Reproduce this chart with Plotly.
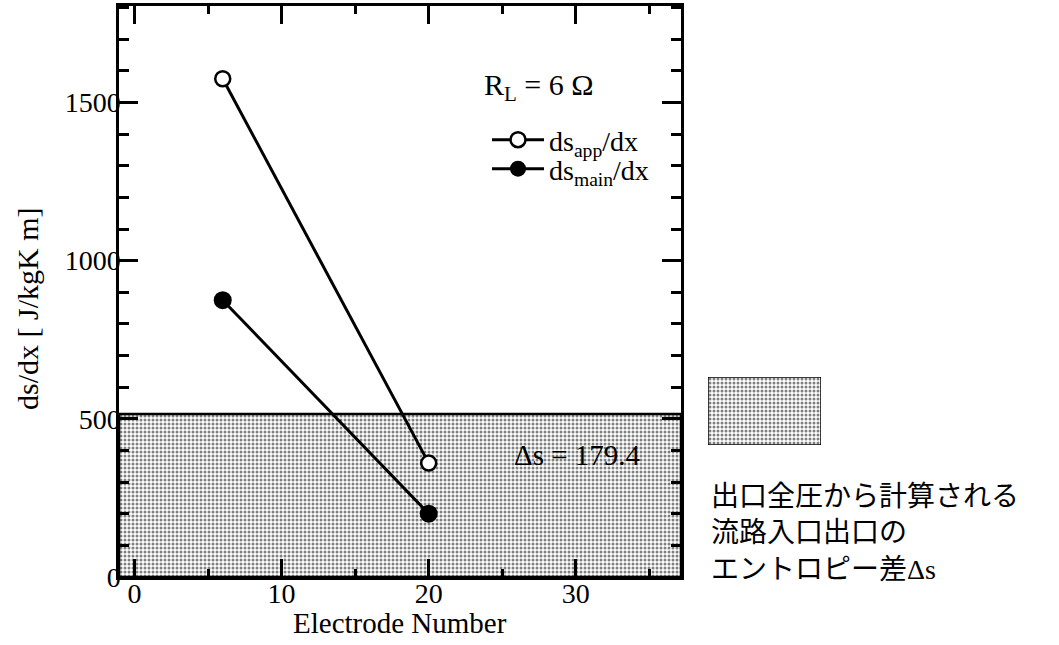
import plotly.graph_objects as go

# Electrode positions and entropy-gradient values (R_L = 6 Ω)
electrode = [6, 20]
ds_app = [1575, 360]
ds_main = [875, 200]

# Entropy difference level drawn as a shaded band
delta_s_level = 515
delta_s_label = "Δs = 179.4"

x_range = [-1.05, 37.15]
y_range = [0, 1805]

W, H = 1059, 645
SERIF = "Liberation Serif"
JP = "Noto Sans CJK JP"

def px_x(v):
    return v / W

def px_y(v):
    return 1 - v / H

dots = dict(shape=".", fgcolor="black", bgcolor="white", size=4, solidity=0.45)

fig = go.Figure()

# shaded band from zero up to the Δs level
fig.add_trace(go.Scatter(
    x=[x_range[0], x_range[1], x_range[1], x_range[0], x_range[0]],
    y=[0, 0, delta_s_level, delta_s_level, 0],
    mode="lines", fill="toself",
    fillcolor="white", fillpattern=dots,
    line=dict(color="black", width=2.5),
    showlegend=False, hoverinfo="skip",
))

fig.add_trace(go.Scatter(
    x=electrode, y=ds_app, mode="lines+markers",
    name="ds<sub>app</sub>/dx", legend="legend",
    line=dict(color="black", width=3),
    marker=dict(symbol="circle", size=15, color="white", line=dict(color="black", width=2.5)),
))
fig.add_trace(go.Scatter(
    x=electrode, y=ds_main, mode="lines+markers",
    name="ds<sub>main</sub>/dx", legend="legend2",
    line=dict(color="black", width=3),
    marker=dict(symbol="circle", size=18, color="black", line=dict(color="black", width=0)),
))

# swatch for the shaded band key, on its own small axes
fig.add_trace(go.Scatter(
    x=[0, 1, 1, 0, 0], y=[0, 0, 1, 1, 0],
    mode="lines", fill="toself", fillcolor="white", fillpattern=dots,
    line=dict(color="black", width=1.5),
    xaxis="x2", yaxis="y2", showlegend=False, hoverinfo="skip",
))

axis_common = dict(
    showline=True, linecolor="black", linewidth=2.5, mirror="allticks",
    ticks="inside", tickcolor="black", tickwidth=2.5,
    showgrid=False, zeroline=False,
    tickfont=dict(family=SERIF, size=28, color="black"),
)

legend_common = dict(
    xanchor="left", yanchor="middle",
    bgcolor="rgba(0,0,0,0)", borderwidth=0,
    font=dict(family=SERIF, size=28, color="black"),
    itemwidth=52, tracegroupgap=0,
)

fig.update_layout(
    width=W, height=H,
    margin=dict(l=0, r=0, t=0, b=0, autoexpand=False),
    paper_bgcolor="white", plot_bgcolor="white",
    xaxis=dict(
        domain=[px_x(119), px_x(681)], range=x_range,
        tickmode="linear", tick0=0, dtick=10, ticklen=18,
        minor=dict(dtick=5, tick0=0, ticklen=8, tickwidth=2.5, tickcolor="black", ticks="inside"),
        ticklabelstandoff=-10,
        **axis_common,
    ),
    yaxis=dict(
        domain=[px_y(577), px_y(6)], range=y_range,
        tickmode="linear", tick0=0, dtick=500, ticklen=19,
        minor=dict(dtick=100, tick0=0, ticklen=10, tickwidth=2.5, tickcolor="black", ticks="inside"),
        ticklabelstandoff=-10,
        **axis_common,
    ),
    xaxis2=dict(domain=[px_x(708), px_x(821)], range=[0, 1], visible=False, anchor="y2"),
    yaxis2=dict(domain=[px_y(445), px_y(377)], range=[0, 1], visible=False, anchor="x2"),
    legend=dict(x=px_x(487), y=px_y(140), **legend_common),
    legend2=dict(x=px_x(487), y=px_y(169), **legend_common),
    showlegend=True,
)

annotations = [
    dict(text="R<sub>L</sub> = 6 Ω", x=px_x(482), y=px_y(87), xanchor="left", yanchor="middle",
         font=dict(family=SERIF, size=30, color="black")),
    dict(text=delta_s_label, x=px_x(512), y=px_y(455), xanchor="left", yanchor="middle",
         font=dict(family=SERIF, size=29, color="black")),
    dict(text="Electrode Number", x=px_x(400), y=px_y(623), xanchor="center", yanchor="middle",
         font=dict(family=SERIF, size=29, color="black")),
    dict(text="ds/dx [ J/kgK m]", x=px_x(27), y=px_y(309), xanchor="center", yanchor="middle",
         textangle=-90, font=dict(family=SERIF, size=30, color="black")),
    dict(text="出口全圧から計算される<br>流路入口出口の<br>"
              "エントロピー差<span style=\"font-family:'Liberation Serif'\">Δs</span>",
         x=px_x(709), y=px_y(530), xanchor="left", yanchor="middle", align="left",
         font=dict(family=JP, size=28, color="black")),
]
for a in annotations:
    a.update(xref="paper", yref="paper", showarrow=False)
fig.update_layout(annotations=annotations)

fig.write_html("out.html")
